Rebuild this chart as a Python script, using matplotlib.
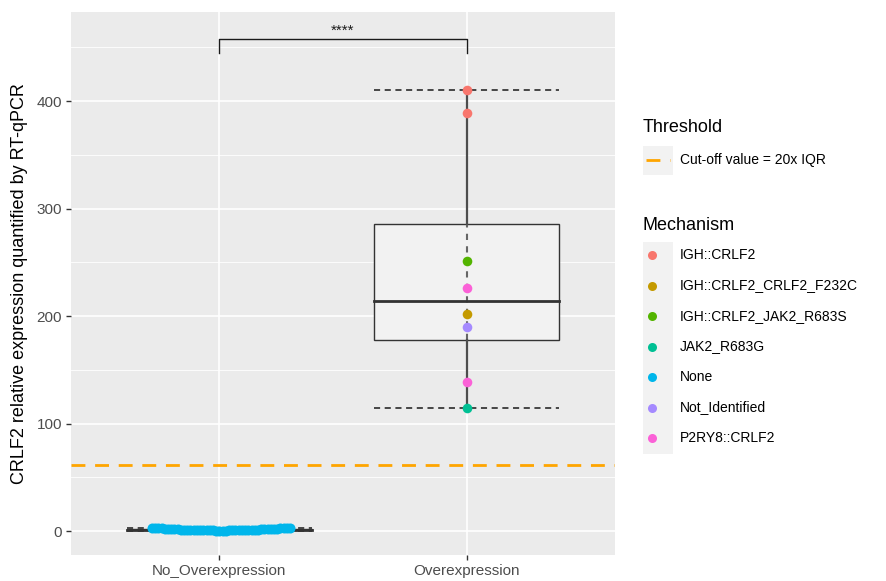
import numpy as np
import matplotlib
matplotlib.use("Agg")
import matplotlib.pyplot as plt
from matplotlib.patches import Rectangle
from matplotlib.lines import Line2D

plt.rcParams['font.family'] = ['Liberation Sans', 'DejaVu Sans']

# ---- data ----
groups = ["No_Overexpression", "Overexpression"]

mechanisms = ["IGH::CRLF2", "IGH::CRLF2_CRLF2_F232C", "IGH::CRLF2_JAK2_R683S",
              "JAK2_R683G", "None", "Not_Identified", "P2RY8::CRLF2"]
mech_colors = ["#F8766D", "#C49A00", "#53B400", "#00C094", "#00B6EB", "#A58AFF", "#FB61D7"]

# Overexpression samples (value, mechanism)
over_values = [410, 389, 251, 226, 202, 190, 139, 114]
over_mech = ["IGH::CRLF2", "IGH::CRLF2", "IGH::CRLF2_JAK2_R683S", "P2RY8::CRLF2",
             "IGH::CRLF2_CRLF2_F232C", "Not_Identified", "P2RY8::CRLF2", "JAK2_R683G"]

# No_Overexpression samples (all mechanism "None")
noover_values = [0.2, 0.3, 0.4, 0.4, 0.5, 0.5, 0.6, 0.6, 0.7, 0.7,
                 0.8, 0.8, 0.9, 0.9, 1.0, 1.0, 1.0, 1.1, 1.1, 1.2,
                 1.2, 1.3, 1.3, 1.4, 1.4, 1.5, 1.5, 1.6, 1.6, 1.7,
                 1.8, 1.9, 2.0, 2.1, 2.2, 2.3, 2.4, 2.5, 2.6, 2.7,
                 2.8, 2.9, 3.0, 3.1]

threshold = 61
threshold_label = "Cut-off value = 20x IQR"
signif_label = "****"
bracket_y = 458
bracket_drop = 13

# ---- figure ----
W, H = 887, 581
fig = plt.figure(figsize=(W / 100, H / 100), dpi=100)
ax = fig.add_axes([71 / W, (H - 555) / H, 544 / W, 543 / H])
ax.set_facecolor("#EBEBEB")
ax.set_xlim(0.4, 2.6)
ax.set_ylim(-22.3, 482.8)

# grid
for y in [50, 150, 250, 350, 450]:
    ax.axhline(y, color="white", lw=0.6, zorder=0)
for y in [0, 100, 200, 300, 400]:
    ax.axhline(y, color="white", lw=1.2, zorder=0)
for x in [1, 2]:
    ax.axvline(x, color="white", lw=1.2, zorder=0)


def quart(v):
    return np.percentile(v, [0, 25, 50, 75, 100])


box_w = 0.75
for xpos, vals in [(1, noover_values), (2, over_values)]:
    mn, q1, med, q3, mx = quart(vals)
    # dashed error-bar caps at min and max
    for yv in (mn, mx):
        ax.plot([xpos - box_w / 2, xpos + box_w / 2], [yv, yv], color="#1A1A1A",
                lw=1.1, ls=(0, (4, 3)), zorder=2)
    # box
    ax.add_patch(Rectangle((xpos - box_w / 2, q1), box_w, q3 - q1, facecolor="#F2F2F2",
                           edgecolor="#333333", lw=1.0, zorder=2))
    # dashed connector inside the box
    ax.plot([xpos, xpos], [q1, q3], color="#666666", lw=1.5, ls=(0, (3, 3)), zorder=2.5)
    # whiskers
    ax.plot([xpos, xpos], [q3, mx], color="#4D4D4D", lw=1.6, zorder=2.5)
    ax.plot([xpos, xpos], [mn, q1], color="#4D4D4D", lw=1.6, zorder=2.5)
    # median
    ax.plot([xpos - box_w / 2, xpos + box_w / 2], [med, med], color="#333333", lw=2.0, zorder=2.6)

# swarm layout for the low group: sorted values alternate outwards
vals_sorted = np.sort(noover_values)
step = 0.013
offs = np.array([((k + 1) // 2) * step * (1 if k % 2 else -1) for k in range(len(vals_sorted))])
ax.scatter(1 + offs, vals_sorted, s=52, color=mech_colors[mechanisms.index("None")],
           zorder=3, linewidths=0)

# overexpression points
for v, m in zip(over_values, over_mech):
    ax.scatter(2, v, s=48, color=mech_colors[mechanisms.index(m)], zorder=3, linewidths=0)

# threshold line
ax.axhline(threshold, color="#FFA500", lw=2.0, ls=(0, (5, 3.5)), zorder=2.8)

# significance bracket
ax.plot([1, 1, 2, 2], [bracket_y - bracket_drop, bracket_y, bracket_y, bracket_y - bracket_drop],
        color="#1A1A1A", lw=1.0, zorder=4, clip_on=False)
ax.text(1.5, bracket_y + 1, signif_label, ha="center", va="bottom", fontsize=11,
        color="#1A1A1A")

# axes styling
for s in ax.spines.values():
    s.set_visible(False)
ax.set_xticks([1, 2])
ax.set_xticklabels(groups, fontsize=11, color="#4D4D4D")
ax.set_yticks([0, 100, 200, 300, 400])
ax.set_yticklabels(["0", "100", "200", "300", "400"], fontsize=11, color="#4D4D4D")
ax.tick_params(axis="both", length=3.5, color="#333333", width=1.0, pad=3)
ax.set_ylabel("CRLF2 relative expression quantified by RT-qPCR", fontsize=13,
              color="black", labelpad=6)


# ---- legends (figure pixel coordinates) ----
def fx(px):
    return px / W


def fy(py):
    return 1 - py / H


fig.text(fx(643), fy(128), "Threshold", fontsize=13, va="center", ha="left")
fig.patches.append(Rectangle((fx(643), fy(175)), 30 / W, 29 / H, transform=fig.transFigure,
                             facecolor="#F2F2F2", edgecolor="none"))
fig.lines.append(Line2D([fx(646), fx(670)], [fy(160), fy(160)], transform=fig.transFigure,
                        color="#FFA500", lw=2.0, ls=(0, (5, 3.5))))
fig.text(fx(680), fy(160), threshold_label, fontsize=10, va="center", ha="left")

fig.text(fx(643), fy(225), "Mechanism", fontsize=13, va="center", ha="left")
fig.patches.append(Rectangle((fx(643), fy(454)), 30 / W, 212 / H, transform=fig.transFigure,
                             facecolor="#F2F2F2", edgecolor="none"))
for i, (m, c) in enumerate(zip(mechanisms, mech_colors)):
    yy = 255 + i * 30.5
    fig.lines.append(Line2D([fx(652)], [fy(yy)], transform=fig.transFigure, marker="o",
                            markersize=6.5, color=c, markeredgewidth=0, ls="none"))
    fig.text(fx(680), fy(yy), m, fontsize=10, va="center", ha="left")

fig.savefig("out.png", dpi=100)
